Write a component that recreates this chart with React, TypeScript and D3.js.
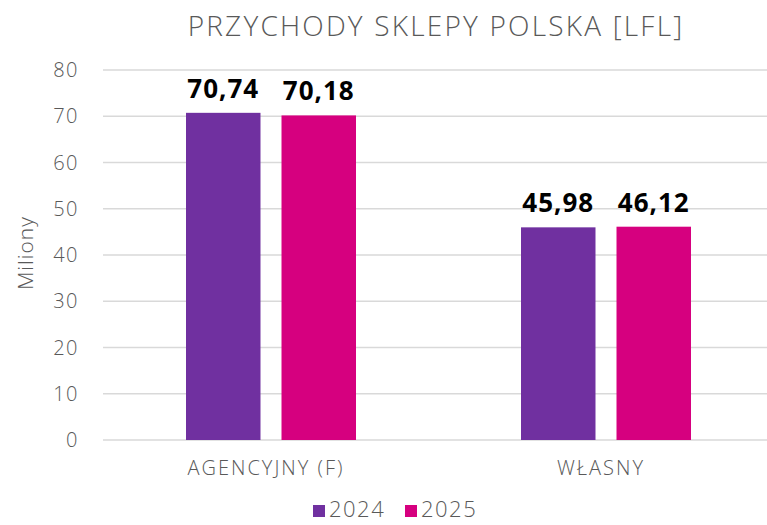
import React from "react";
import * as d3 from "d3";

const categories = ["AGENCYJNY (F)", "WŁASNY"];
const seriesNames = ["2024", "2025"];
const values2024 = [70.74, 45.98];
const values2025 = [70.18, 46.12];
const yTicks = [0, 10, 20, 30, 40, 50, 60, 70, 80];
const colors = ["#7030A0", "#D6007F"];

const W = 767;
const H = 525;
const FONT = "'Open Sans', 'DejaVu Sans', sans-serif";

export default function App() {
  const x0 = d3.scaleBand<string>().domain(categories).range([103.5, 773.5]).paddingInner(0).paddingOuter(0);
  const groupW = 170;
  const x1 = d3.scaleBand<string>().domain(seriesNames).range([0, groupW]).paddingInner(0.22).paddingOuter(0);
  const y = d3.scaleLinear().domain([0, 80]).range([440, 70]);
  const series = [values2024, values2025];
  const fmt = (v: number) => v.toFixed(2).replace(".", ",");

  return (
    <div style={{ position: "absolute", left: 0, top: 0 }}>
      <svg width={W} height={H} style={{ display: "block", background: "#fff" }}>
        <text x={436} y={36} textAnchor="middle" fontFamily={FONT} fontWeight={300} fontSize={28} letterSpacing={2.2} fill="#595959">
          PRZYCHODY SKLEPY POLSKA [LFL]
        </text>
        {yTicks.map((t) => (
          <g key={t}>
            <line x1={103} x2={W} y1={y(t)} y2={y(t)} stroke="#D9D9D9" strokeWidth={1.5} />
            <text x={79} y={y(t)} dy="0.35em" textAnchor="end" fontFamily={FONT} fontWeight={300} fontSize={20} letterSpacing={1.5} fill="#595959">
              {t}
            </text>
          </g>
        ))}
        <text transform={`translate(33,253) rotate(-90)`} textAnchor="middle" fontFamily={FONT} fontWeight={300} fontSize={21} letterSpacing={1} fill="#595959">
          Miliony
        </text>
        {categories.map((c, ci) => {
          const gx = (x0(c) as number) + x0.bandwidth() / 2 - groupW / 2;
          return (
            <g key={c}>
              {seriesNames.map((s, si) => {
                const v = series[si][ci];
                const bx = gx + (x1(s) as number);
                return (
                  <g key={s}>
                    <rect x={bx} y={y(v)} width={x1.bandwidth()} height={y(0) - y(v)} fill={colors[si]} />
                    <text x={bx + x1.bandwidth() / 2} y={y(v) - 15} textAnchor="middle" fontFamily={FONT} fontWeight={700} fontSize={26} letterSpacing={1} fill="#000">
                      {fmt(v)}
                    </text>
                  </g>
                );
              })}
              <text x={(x0(c) as number) + x0.bandwidth() / 2 - 5} y={468} dy="0.35em" textAnchor="middle" fontFamily={FONT} fontWeight={300} fontSize={20} letterSpacing={2} fill="#595959">
                {c}
              </text>
            </g>
          );
        })}
        {seriesNames.map((s, si) => {
          const lx = [313, 405][si];
          return (
            <g key={s}>
              <rect x={lx} y={505} width={12} height={12} fill={colors[si]} />
              <text x={lx + 16} y={509} dy="0.35em" fontFamily={FONT} fontWeight={300} fontSize={22} letterSpacing={1.5} fill="#595959">
                {s}
              </text>
            </g>
          );
        })}
      </svg>
    </div>
  );
}
